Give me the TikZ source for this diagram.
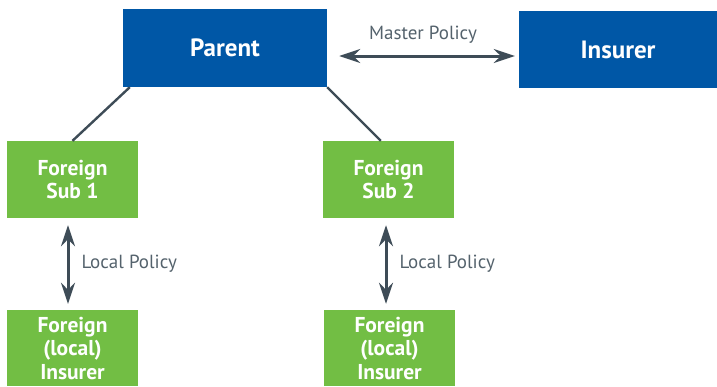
\documentclass[tikz,border=0pt]{standalone}
\usepackage{fontspec}
\setmainfont{PT Sans}
\usepackage{tikz}
\usetikzlibrary{arrows.meta, positioning, calc}
\definecolor{polblue}{RGB}{0,87,166}
\definecolor{polgreen}{RGB}{114,190,68}
\definecolor{polgray}{RGB}{62,76,87}
\definecolor{poltext}{RGB}{84,98,108}

\begin{document}
\begin{tikzpicture}[x=1pt,y=-1pt,
    bluebox/.style={fill=polblue,text=white,inner sep=0pt,minimum width=204pt,minimum height=78pt,font=\fontsize{25}{29}\selectfont\bfseries},
    greenbox/.style={fill=polgreen,text=white,inner sep=0pt,align=center,minimum width=131pt,minimum height=77pt,font=\fontsize{21.5}{23.5}\selectfont\bfseries},
    link/.style={draw=polgray,line width=2.4pt},
    policy/.style={draw=polgray,line width=3pt,{Stealth[length=21pt,width=14pt,inset=7pt]}-{Stealth[length=21pt,width=14pt,inset=7pt]}},
    lbl/.style={text=poltext,inner sep=0pt,font=\fontsize{19}{21}\selectfont}]
\useasboundingbox (0,0) rectangle (717,386);

\node[bluebox] (parent) at (225,48) {Parent};
\node[bluebox,minimum width=198pt,minimum height=77pt] (insurer) at (618,49.5) {Insurer};
\node[greenbox] (sub1) at (72.5,179.5) {Foreign\\Sub 1};
\node[greenbox] (sub2) at (388.5,179.5) {Foreign\\Sub 2};
\node[greenbox,minimum height=76pt] (local1) at (72.5,348) {Foreign\\(local)\\Insurer};
\node[greenbox,minimum height=76pt] (local2) at (389.5,348) {Foreign\\(local)\\Insurer};

% ownership lines
\draw[link] ($(parent.south west)+(7,0)$) -- (sub1.north);
\draw[link] (parent.south east) -- ($(sub2.north west)+(58,0)$);

% policies
\draw[policy,shorten <=12pt,shorten >=4pt] ([yshift=-8pt]parent.east) -- ([yshift=-8pt]parent.east -| insurer.west)
    node[lbl,midway,above=11pt] (master) {Master Policy};
\draw[policy,shorten <=7pt,shorten >=6pt] ([xshift=-4.5pt]sub1.south) -- ([xshift=-4.5pt]sub1.south |- local1.north)
    node[lbl,midway,right=12pt] (pol1) {Local Policy};
\draw[policy,shorten <=7pt,shorten >=6pt] ([xshift=-2.5pt]sub2.south) -- ([xshift=-2.5pt]sub2.south |- local2.north)
    node[lbl,midway,right=12pt] (pol2) {Local Policy};
\end{tikzpicture}
\end{document}
